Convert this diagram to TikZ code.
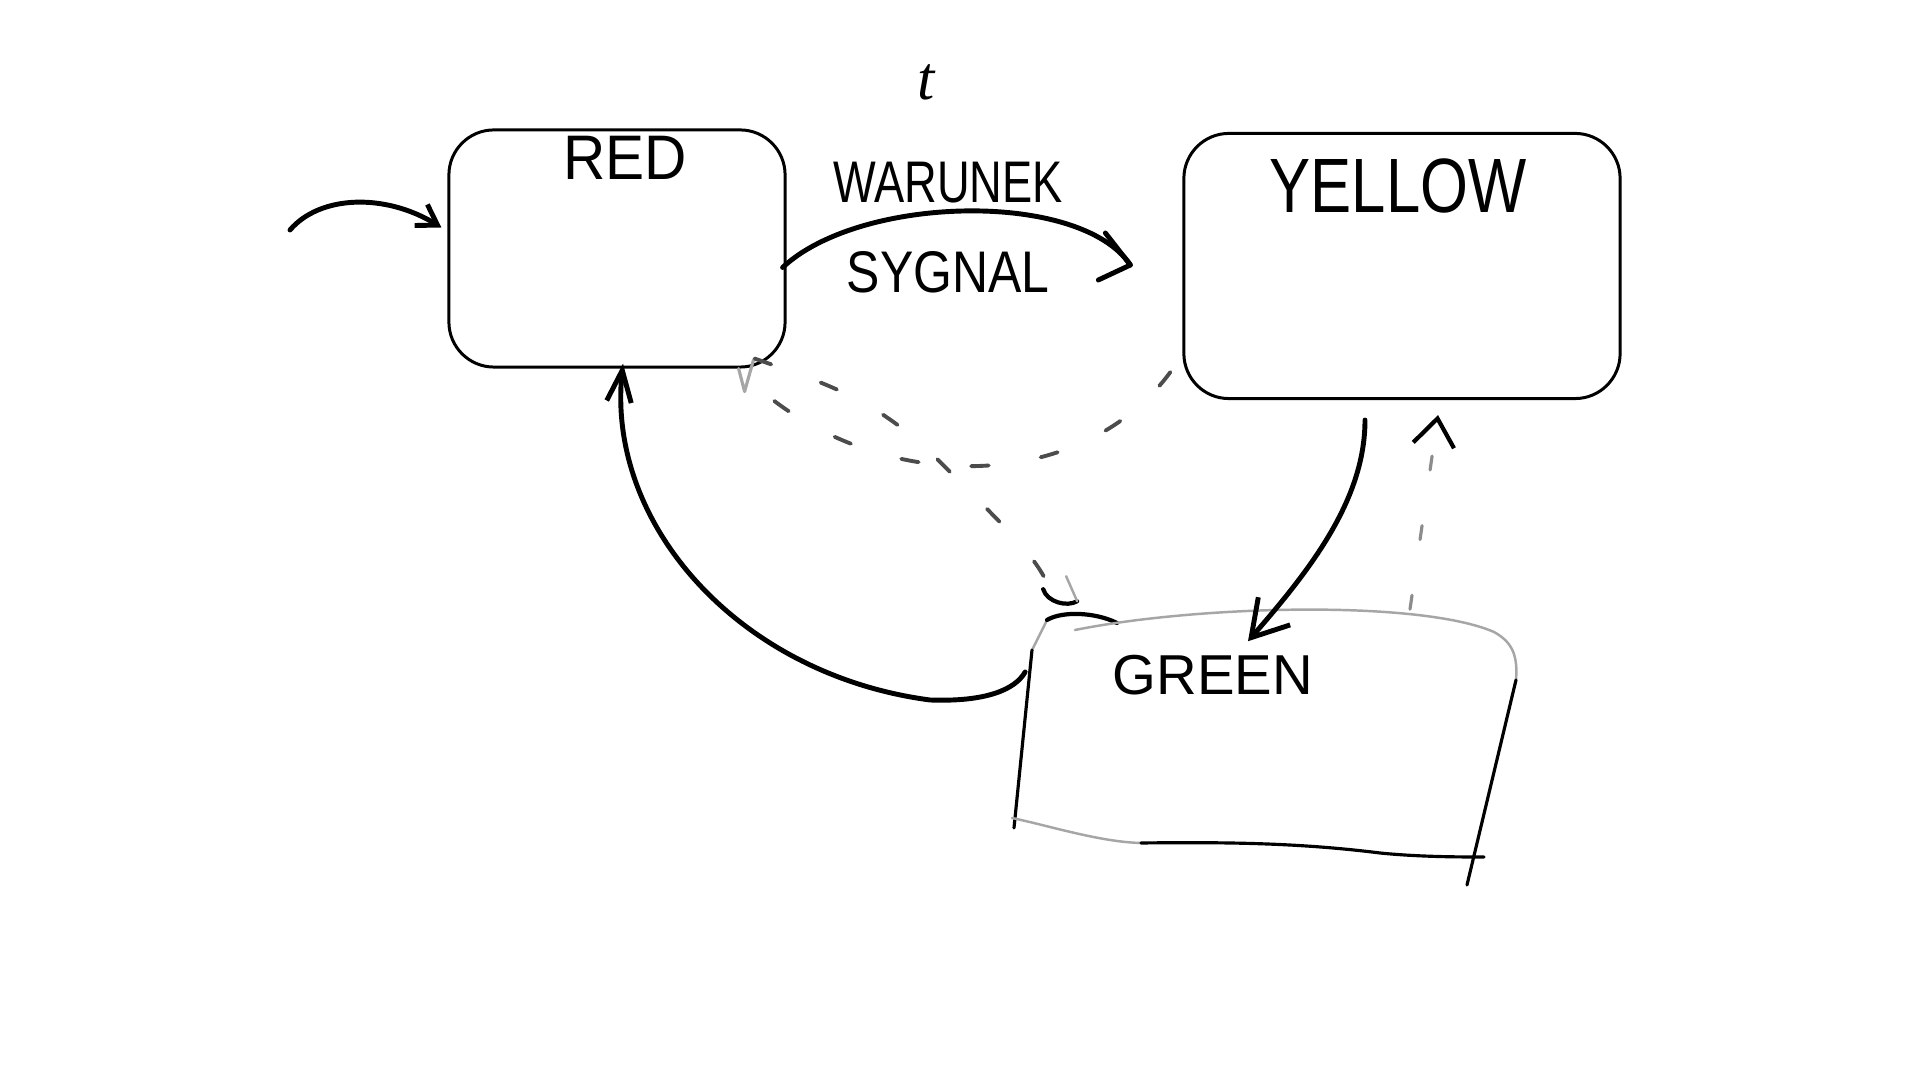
\documentclass[tikz,border=0pt]{standalone}
\usepackage{fontspec}
\usepackage{graphicx}
\setmainfont{Liberation Sans}
\newfontfamily\serifit{Liberation Serif}
\usetikzlibrary{arrows.meta,calc}
\newcommand{\squeeze}[2]{\scalebox{#1}[1]{#2}}
\begin{document}
\begin{tikzpicture}[x=0.01cm,y=-0.01cm,
  box/.style={draw=black, line width=0.85pt, rounded corners=0.45cm, inner sep=0pt},
  conn/.style={draw=black, line width=1.4pt, line cap=round, line join=round},
  dsh/.style={draw=black!70, line width=1.1pt, line cap=round, dash pattern=on 5pt off 15pt},
  lightdsh/.style={draw=black!45, line width=0.9pt, line cap=round, dash pattern=on 4pt off 16pt},
  faint/.style={draw=black!35, line width=0.7pt, line cap=round},
  edgeline/.style={draw=black, line width=0.9pt, line cap=round},
  lbl/.style={inner sep=0pt, text=black}
]
\fill[white] (0,0) rectangle (1920,1080);
\useasboundingbox (0,0) rectangle (1920,1080);

% state boxes
\node[box, minimum width=3.36cm, minimum height=2.37cm] (red) at (617,248.5) {};
\node[box, minimum width=4.36cm, minimum height=2.65cm] (yellow) at (1402,266) {};
\node[inner sep=0pt, minimum width=5.0cm, minimum height=2.44cm] (green) at (1265,735) {};

% GREEN outline (hand-drawn)
\draw[faint] (1047,620) -- (1032,650);
\draw[edgeline] (1032,650) -- (1014,828);
\draw[edgeline, line width=1.2pt] (1047,620) .. controls (1062,611) and (1095,612) .. (1117,623);
\draw[faint] (1075,630) .. controls (1200,605) and (1420,600) .. (1494,632)
  .. controls (1512,642) and (1518,655) .. (1516,680);
\draw[edgeline] (1516,680) -- (1467,885);
\draw[faint] (1012,818) .. controls (1050,826) and (1100,842) .. (1141,843);
\draw[edgeline] (1141,843) .. controls (1230,842) and (1300,843) .. (1380,853)
  .. controls (1420,857) and (1460,857) .. (1484,857);

% labels
\node[lbl, font=\fontsize{17.9}{20}\selectfont] (redtxt) at (625,158) {\squeeze{0.93}{RED}};
\node[lbl, font=\fontsize{21.9}{24}\selectfont] (yellowtxt) at (1398,186) {\squeeze{0.8}{YELLOW}};
\node[lbl, font=\fontsize{16}{18}\selectfont] (greentxt) at (1213,675) {GREEN};
\node[lbl, font=\fontsize{16.7}{19}\selectfont] (cond) at (948,183) {\squeeze{0.77}{WARUNEK}};
\node[lbl, font=\fontsize{16.7}{19}\selectfont] (sig) at (948,272) {\squeeze{0.85}{SYGNAL}};
\node[lbl, font=\serifit\itshape\fontsize{17.6}{20}\selectfont] (tlbl) at (926,82) {t};

% initial arrow
\coordinate (start) at (290,230);
\fill[black] (start) circle (0.25pt);
\draw[conn, -{Straight Barb[length=5.5pt,width=7pt]}] (start)
  .. controls (320,195) and (385,193) .. ($(red.west)+(-6,-21)$);

% RED -> YELLOW (hand-drawn open head)
\coordinate (ryTip) at ($(yellow.west)+(-52,-1)$);
\draw[conn] ($(red.east)+(-4,19)$)
  .. controls (860,195) and (1080,190) .. (ryTip);
\draw[conn] ($(ryTip)+(-25,-32)$) -- (ryTip) -- ($(ryTip)+(-32,15)$);

% GREEN -> RED
\draw[conn, -{Straight Barb[length=9pt,width=7pt]}] ($(green.west)+(11,-63)$)
  .. controls (1015,690) and (985,702) .. (930,700)
  .. controls (740,675) and (606,525) .. ($(red.south)+(6,-5)$);

% YELLOW -> GREEN
\draw[conn, -{Straight Barb[length=10pt,width=12pt]}] ($(yellow.south)+(-37,20)$)
  .. controls (1365,500) and (1310,570) .. ($(green.north)+(-17,29)$);

% GREEN -> YELLOW (dashed)
\draw[lightdsh, -{Straight Barb[length=7.7pt,width=11.7pt,color=black,line width=1.2pt]}] ($(green.north)+(145,-3)$)
  -- ($(yellow.south)+(36,15)$);

% YELLOW <-> RED dashed arc
\draw[dsh] ($(yellow.south west)+(-12,-28)$)
  .. controls (1080,495) and (880,495) .. ($(red.south east)+(-30,18)$);
\draw[faint, line width=0.9pt, line join=round] ($(red.south east)+(-48,0)$)
  -- ($(red.south east)+(-42,23)$) -- ($(red.south east)+(-33,-9)$);

% RED -> GREEN dashed
\draw[dsh] ($(red.south east)+(-32,-10)$)
  .. controls (830,385) and (880,400) .. (946,468)
  .. controls (990,512) and (1030,550) .. ($(green.north west)+(30,-35)$);
\draw[conn, line width=1.2pt] ($(green.north west)+(29,-23)$)
  .. controls ($(green.north west)+(33,-10)$) and ($(green.north west)+(53,-5)$)
  .. ($(green.north west)+(63,-11)$);
\draw[faint] ($(green.north west)+(63,-11)$) -- ($(green.north west)+(52,-36)$);
\end{tikzpicture}
\end{document}
